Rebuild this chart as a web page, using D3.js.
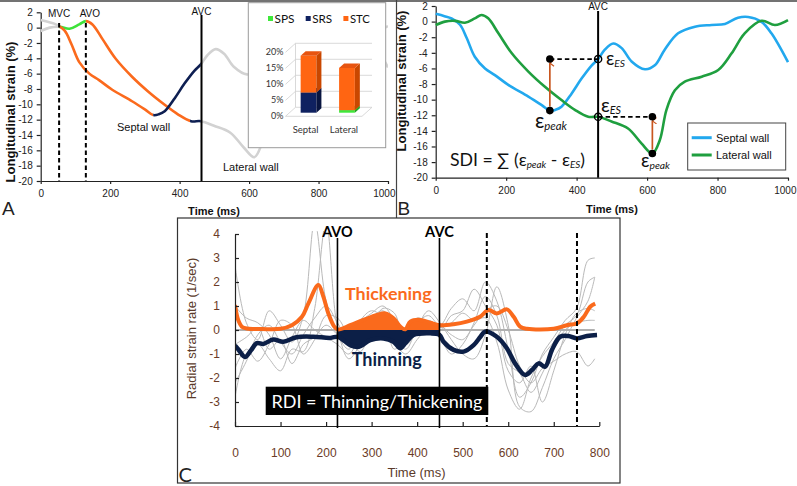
<!DOCTYPE html>
<html><head><meta charset="utf-8">
<script src="https://cdn.jsdelivr.net/npm/d3@7"></script>
<style>body{margin:0;background:#fff}svg{display:block}</style>
</head><body>
<svg id="c" width="797" height="486"></svg>
<script>
// ================= DATA =================
const strainTicksY = [2,0,-2,-4,-6,-8,-10,-12,-14,-16,-18,-20];
const strainTicksX = [0,200,400,600,800,1000];

const septalT = [0,25,45,69,88,111,140,168,206,263,301,324,340,357,386,414,443,461,480,504,528,556,594,622,650,688,736,783,821,858,887,924,953,1000];
const septalV = [1.0,0.7,0.4,-0.4,-2.1,-4.5,-6.0,-6.85,-8.1,-9.6,-10.7,-11.4,-11.3,-10.9,-9.2,-7.3,-5.6,-4.8,-3.6,-2.8,-3.4,-5.1,-6.1,-5.6,-3.6,-1.5,-0.65,-0.43,-0.3,0.5,0.6,0.0,-1.5,-5.2];
const lateralT = [0,26,55,83,111,130,149,178,216,263,310,357,395,433,461,499,546,584,615,636,655,679,707,755,802,840,877,925,963,1000];
const lateralV = [-0.44,0.0,0.1,-0.14,0.42,0.85,0.42,-1.5,-4.06,-6.4,-8.35,-10.05,-11.3,-12.2,-12.2,-12.8,-13.7,-15.6,-16.9,-15.2,-11.3,-8.8,-7.7,-7.06,-6.2,-4.06,-1.5,0.1,-0.44,0.2];

// panel A phases
const septalPhaseNames = ["pre","STC","SRS","post"];
const septalPhaseT = [0,53,324,461,1000];
const lateralPhaseNames = ["pre","SPS","STC","SRS","post"];
const lateralPhaseT = [0,53,130,430,461,1000];
const eventsA = ["MVC","AVO","AVC"];
const eventsATime = [53,130,463];

// inset bar chart
const insetCats = ["Septal","Lateral"];
const insetKeys = ["SPS","SRS","STC"];
const insetSPS = [0,0.8];
const insetSRS = [6.3,0];
const insetSTC = [11.5,13.2];
const insetTicks = [0,5,10,15,20];

// panel B
const avcB = 461;
const septalPeakT = 324;
const lateralPeakT = 615;

// panel C
const cTicksX = [0,100,200,300,400,500,600,700,800];
const cTicksY = [4,3,2,1,0,-1,-2,-3,-4];
const cEventsSolid = ["AVO","AVC"];
const cEventsSolidT = [225,449];
const cEventsDashedT = [553,751];
const orangeT = [0,7,15,26,60,100,125,147,161,183,194,205,218,226,253,282,312,330,348,363,374,385,407,429,449,480,509,538,557,575,597,612,626,641,700,729,751,766,780,791];
const orangeV = [1.04,0.42,0.14,0.06,0.04,0.05,0.2,0.55,1.1,1.87,1.39,0.69,0.14,0.02,0.2,0.42,0.63,0.69,0.49,0.14,0.03,0.35,0.42,0.3,0.2,0.24,0.35,0.55,0.83,0.69,0.86,0.55,0.14,0.05,0.05,0.2,0.28,0.55,0.97,1.1];
const navyT = [0,7,22,35,48,62,84,106,135,172,209,226,240,253,272,297,326,348,363,374,392,429,449,458,480,502,524,539,549,575,597,615,637,652,667,681,696,714,732,751,773,795];
const navyV = [-0.65,-0.8,-1.12,-0.85,-0.55,-0.58,-0.4,-0.49,-0.3,-0.28,-0.33,-0.28,-0.45,-0.63,-0.7,-0.42,-0.35,-0.49,-0.76,-0.55,-0.21,-0.14,-0.2,-0.49,-0.83,-0.9,-0.63,-0.28,-0.07,-0.28,-0.76,-1.39,-1.87,-1.67,-1.39,-1.53,-0.83,-0.28,-0.25,-0.35,-0.25,-0.21];
const greyT = [0,25,50,75,100,125,150,175,200,225,250,275,300,325,350,375,400,425,450,475,500,525,550,575,600,625,650,675,700,725,750,775,790];
const grey1 = [2.7,0.3,-0.4,0.8,0.2,-0.5,0.6,4.5,1.2,-0.2,-0.8,0.3,0.7,1.0,0.4,-0.3,0.3,0.6,0.2,0.9,1.3,0.8,2.0,1.2,-0.8,-2.8,-2.2,-1.0,-0.3,0.4,0.9,2.9,3.0];
const grey2 = [-2.8,-1.0,-0.6,-1.2,-1.7,-0.8,-0.9,0.9,4.5,0.1,-1.2,-0.6,0.2,0.6,-0.2,-0.8,0.1,0.8,0.3,-0.4,-1.0,-1.2,-0.2,1.8,0.2,-3.2,-3.4,-2.4,-1.2,-0.4,0.5,1.2,2.2];
const grey3 = [-2.2,-1.3,-0.2,0.2,-0.5,-1.0,-0.2,0.5,1.0,0.3,-0.4,0.4,0.8,0.5,-0.8,-0.2,0.5,0.3,0.0,0.6,0.8,1.7,1.0,0.2,-1.7,-2.2,-1.5,-3.0,-1.7,-0.2,0.7,0.9,0.8];
const grey4 = [-1.6,-0.8,-1.3,-0.6,0.4,0.2,-1.0,-0.4,0.6,0.5,-0.3,-0.9,0.1,0.9,0.7,-0.6,-0.1,0.2,-0.3,-1.0,-0.6,0.3,1.4,0.6,-1.4,-1.8,-2.6,-1.8,-0.8,0.0,0.3,0.4,0.4];
const grey5 = [1.0,0.5,0.3,-0.2,-1.2,-0.3,0.4,0.0,-0.3,-0.6,-1.0,-0.2,0.5,0.8,0.2,-0.5,0.0,0.4,0.1,0.3,0.7,0.4,0.5,-0.5,-2.5,-3.3,-2.0,-1.1,-0.5,0.2,0.6,2.0,2.2];
const grey6 = [-0.6,-0.3,0.1,-0.8,-0.4,-1.4,-0.6,-0.3,0.2,-0.2,-0.6,-0.4,0.3,0.2,-0.5,-1.0,-0.4,0.1,0.2,-0.2,-0.4,0.2,0.8,1.0,0.0,-1.5,-2.2,-1.6,-1.3,-1.0,-0.9,-1.5,-1.2];

// ================= DRAWING =================
const svg = d3.select('#c');
const ARIAL = "'Liberation Sans', Arial, sans-serif";
const CAL = "Lato, 'Open Sans', sans-serif";
const defs = svg.append('defs');
const curve = d3.curveCatmullRom.alpha(0.5);
const pts = (T,V) => T.map((t,i)=>[t,V[i]]);
let clipN = 0;
function clip(x0,y0,x1,y1){
  const id='clp'+(clipN++);
  defs.append('clipPath').attr('id',id).append('rect')
    .attr('x',x0).attr('y',y0).attr('width',x1-x0).attr('height',y1-y0);
  return `url(#${id})`;
}
function fitW(sel, w){
  const L = sel.node().getComputedTextLength();
  if(!L) return;
  const r = w/L;
  sel.attr('font-size', parseFloat(sel.attr('font-size'))*r);
  sel.selectAll('tspan').each(function(){
    const t=d3.select(this);
    if(t.attr('font-size')) t.attr('font-size', parseFloat(t.attr('font-size'))*r);
  });
}
function styleAxis(g, size, color, family){
  g.attr('font-family', family).attr('font-size', size);
  g.select('.domain').attr('stroke','#222').attr('stroke-width',1.2);
  g.selectAll('.tick line').attr('stroke','#222').attr('stroke-width',1.2);
  g.selectAll('.tick text').attr('fill',color);
}
function endLabel(g, v, dx){
  g.selectAll('.tick').filter(d=>d===v).select('text').attr('text-anchor','end').attr('x',dx);
}

const PH = {pre:'#d2d2d2', post:'#d2d2d2', SPS:'#3ee23a', SRS:'#0e1f52', STC:'#fb6a1d'};

// frame lines
svg.append('line').attr('x1',0).attr('x2',797).attr('y1',1).attr('y2',1).attr('stroke','#444').attr('stroke-width',1.5);
svg.append('line').attr('x1',396.5).attr('x2',396.5).attr('y1',0).attr('y2',218).attr('stroke','#444').attr('stroke-width',1.2);

// ---------- PANEL A ----------
const gA = svg.append('g');
const xA = d3.scaleLinear().domain([0,1000]).range([40.7,388]);
const yA = d3.scaleLinear().domain([-20,2]).range([181,12.3]);
const lineA = d3.line().x(d=>xA(d[0])).y(d=>yA(d[1])).curve(curve);

const axAx = gA.append('g').attr('transform','translate(0,181)')
  .call(d3.axisBottom(xA).tickValues(strainTicksX).tickSize(3).tickSizeOuter(0).tickPadding(6).tickFormat(d=>String(d)));
styleAxis(axAx,10,'#222',ARIAL);
endLabel(axAx,1000,7);
const axAy = gA.append('g').attr('transform','translate(40.7,0)')
  .call(d3.axisLeft(yA).tickValues(strainTicksY).tickSize(4).tickSizeOuter(0).tickPadding(4).tickFormat(d=>String(d)));
styleAxis(axAy,10,'#222',ARIAL);

const walls = [
  {d:pts(lateralT,lateralV), names:lateralPhaseNames, T:lateralPhaseT},
  {d:pts(septalT,septalV), names:septalPhaseNames, T:septalPhaseT}
];
[true,false].forEach(greyPass=>{
  walls.forEach(w=>{
    w.names.forEach((nm,i)=>{
      const isGrey = (nm==='pre'||nm==='post');
      if(isGrey!==greyPass) return;
      gA.append('path').attr('d',lineA(w.d)).attr('fill','none')
        .attr('stroke',PH[nm]).attr('stroke-width',2.6).attr('stroke-linecap','butt')
        .attr('clip-path', clip(xA(w.T[i]),0,xA(w.T[i+1]),215));
    });
  });
});
// event lines A
eventsA.forEach((nm,i)=>{
  const x = xA(eventsATime[i]);
  const solid = nm==='AVC';
  gA.append('line').attr('x1',x).attr('x2',x).attr('y1',solid?15:23).attr('y2',181)
    .attr('stroke','#000').attr('stroke-width',2).attr('stroke-dasharray',solid?null:'4.5,3');
  gA.append('text').attr('x',x+(nm==='AVO'?4:0)).attr('y',solid?15:17).attr('text-anchor','middle')
    .attr('font-family',ARIAL).attr('font-size',10).attr('fill','#111').text(nm);
});
gA.append('text').attr('x',117).attr('y',131).attr('font-family',ARIAL).attr('font-size',11).attr('fill','#111').text('Septal wall');
gA.append('text').attr('x',223).attr('y',171).attr('font-family',ARIAL).attr('font-size',11).attr('fill','#111').text('Lateral wall');
gA.append('text').attr('x',214).attr('y',215).attr('text-anchor','middle').attr('font-family',ARIAL).attr('font-size',11).attr('font-weight','bold').attr('fill','#111').text('Time (ms)');
gA.append('text').attr('transform','translate(14.5,112) rotate(-90)').attr('text-anchor','middle').attr('font-family',ARIAL).attr('font-size',13).attr('font-weight','bold').attr('fill','#111').text('Longitudinal strain (%)');
gA.append('text').attr('x',2).attr('y',215).attr('font-family',ARIAL).attr('font-size',19).attr('fill','#222').text('A');

// inset
const gI = svg.append('g');
gI.append('rect').attr('x',248.3).attr('y',2.7).attr('width',137.4).attr('height',145).attr('fill','#fff').attr('stroke','#9a9a9a').attr('stroke-width',1);
const yIn = d3.scaleLinear().domain([0,20]).range([116.3,52.3]);
const ix0=285.5, ix1=362, ddx=10, ddy=-9;
insetTicks.forEach(v=>{
  const y=yIn(v);
  gI.append('polyline').attr('points',`${ix0},${y} ${ix0+ddx},${y+ddy} ${ix1+ddx},${y+ddy}`)
    .attr('fill','none').attr('stroke','#cfcfcf').attr('stroke-width',0.8);
  gI.append('text').attr('x',ix0-2).attr('y',y+3).attr('text-anchor','end')
    .attr('font-family',CAL).attr('font-size',9).attr('fill','#333').text(v+'%');
});
gI.append('polyline').attr('points',`${ix0},${yIn(0)} ${ix1},${yIn(0)} ${ix1+ddx},${yIn(0)+ddy}`).attr('fill','none').attr('stroke','#cfcfcf').attr('stroke-width',0.8);
gI.append('line').attr('x1',ix0+ddx).attr('x2',ix0+ddx).attr('y1',yIn(0)+ddy).attr('y2',yIn(20)+ddy).attr('stroke','#cfcfcf').attr('stroke-width',0.8);
const xIn = d3.scaleBand().domain(insetCats).range([ix0,ix1]).paddingInner(0.59).paddingOuter(0.29);
const barShiftX=4, barShiftY=-3.6, bdx=5, bdy=-4.5;
const insetVals = {SPS:insetSPS, SRS:insetSRS, STC:insetSTC};
const COLF = {SPS:'#3ee83a', SRS:'#0f2160', STC:'#ff6512'};
const COLS = {SPS:'#23a423', SRS:'#091540', STC:'#c94700'};
const COLT = {SPS:'#2fc22f', SRS:'#13286e', STC:'#e75410'};
insetCats.forEach((c,ci)=>{
  let base=0;
  const bx = xIn(c)+barShiftX, bw = xIn.bandwidth();
  insetKeys.forEach(k=>{
    const v = insetVals[k][ci];
    if(v<=0) return;
    const y0 = yIn(base)+barShiftY, y1 = yIn(base+v)+barShiftY;
    gI.append('rect').attr('x',bx).attr('y',y1).attr('width',bw).attr('height',y0-y1).attr('fill',COLF[k]);
    gI.append('polygon').attr('points',`${bx+bw},${y0} ${bx+bw+bdx},${y0+bdy} ${bx+bw+bdx},${y1+bdy} ${bx+bw},${y1}`).attr('fill',COLS[k]);
    gI.append('polygon').attr('points',`${bx},${y1} ${bx+bdx},${y1+bdy} ${bx+bw+bdx},${y1+bdy} ${bx+bw},${y1}`).attr('fill',COLT[k]);
    base+=v;
  });
  gI.append('text').attr('x',xIn(c)+bw/2+1).attr('y',133).attr('text-anchor','middle')
    .attr('font-family',CAL).attr('font-size',9.5).attr('fill','#333').text(c);
});
insetKeys.forEach((k,i)=>{
  const lx = 268 + i*37.7;
  gI.append('rect').attr('x',lx).attr('y',16).attr('width',5).attr('height',5).attr('fill',COLF[k]);
  const t = gI.append('text').attr('x',lx+6.5).attr('y',22.5).attr('font-family',CAL).attr('font-size',11).attr('fill','#111').text(k);
  fitW(t,20);
});

// ---------- PANEL B ----------
const gB = svg.append('g');
const xB = d3.scaleLinear().domain([0,1000]).range([435.7,788]);
const yB = d3.scaleLinear().domain([-20,2]).range([177.7,6]);
const lineB = d3.line().x(d=>xB(d[0])).y(d=>yB(d[1])).curve(curve);
const axBx = gB.append('g').attr('transform','translate(0,177.7)')
  .call(d3.axisBottom(xB).tickValues(strainTicksX).tickSize(3).tickSizeOuter(0).tickPadding(6).tickFormat(d=>String(d)));
styleAxis(axBx,10,'#222',ARIAL);
endLabel(axBx,1000,8);
const axBy = gB.append('g').attr('transform','translate(435.7,0)')
  .call(d3.axisLeft(yB).tickValues(strainTicksY).tickSize(4).tickSizeOuter(0).tickPadding(4).tickFormat(d=>String(d)));
styleAxis(axBy,10,'#222',ARIAL);
const BLUE='#22a8ee', GREEN='#1f9f3f';
gB.append('path').attr('d',lineB(pts(septalT,septalV))).attr('fill','none').attr('stroke',BLUE).attr('stroke-width',2.6);
gB.append('path').attr('d',lineB(pts(lateralT,lateralV))).attr('fill','none').attr('stroke',GREEN).attr('stroke-width',2.6);
const xAvc = xB(avcB);
gB.append('line').attr('x1',xAvc).attr('x2',xAvc).attr('y1',11).attr('y2',177.7).attr('stroke','#000').attr('stroke-width',2);
gB.append('text').attr('x',xAvc).attr('y',10).attr('text-anchor','middle').attr('font-family',ARIAL).attr('font-size',10).attr('fill','#111').text('AVC');

const vAt = (T,V,t)=>{ const i=T.indexOf(t); return V[i]; };
const sPeak = vAt(septalT,septalV,septalPeakT), sES = vAt(septalT,septalV,avcB);
const lPeak = vAt(lateralT,lateralV,lateralPeakT), lES = vAt(lateralT,lateralV,avcB);
defs.append('marker').attr('id','arr').attr('viewBox','0 0 10 10').attr('refX',5).attr('refY',1).attr('markerWidth',7).attr('markerHeight',7).attr('orient','auto-start-reverse').attr('markerUnits','userSpaceOnUse')
  .append('path').attr('d','M0.5,7 L5,1 L9.5,7').attr('fill','none').attr('stroke','#c9561f').attr('stroke-width',1.6);
function arrow(t,vFrom,vTo){
  gB.append('line').attr('x1',xB(t)).attr('x2',xB(t)).attr('y1',yB(vFrom)-4).attr('y2',yB(vTo)+4)
    .attr('stroke','#c9561f').attr('stroke-width',1.7).attr('marker-end','url(#arr)');
}
function dash(t0,t1,v){
  gB.append('line').attr('x1',xB(t0)).attr('x2',xB(t1)).attr('y1',yB(v)).attr('y2',yB(v))
    .attr('stroke','#000').attr('stroke-width',1.8).attr('stroke-dasharray','4.5,3');
}
dash(septalPeakT,avcB,sES);
dash(avcB,lateralPeakT,lES);
arrow(septalPeakT,sPeak,sES);
arrow(lateralPeakT,lPeak,lES);
[[septalPeakT,sPeak],[septalPeakT,sES],[lateralPeakT,lES],[lateralPeakT,lPeak]].forEach(p=>{
  gB.append('circle').attr('cx',xB(p[0])).attr('cy',yB(p[1])).attr('r',3.8).attr('fill','#000');
});
[[avcB,sES],[avcB,lES]].forEach(p=>{
  gB.append('circle').attr('cx',xB(p[0])).attr('cy',yB(p[1])).attr('r',3.6).attr('fill','none').attr('stroke','#000').attr('stroke-width',1.4);
});
function epsLabel(x,y,sub,w){
  const t = gB.append('text').attr('x',x).attr('y',y).attr('font-family',CAL).attr('font-size',18).attr('fill','#111');
  t.append('tspan').text('ε');
  t.append('tspan').attr('font-size',10).attr('font-style','italic').attr('dy',1.5).text(sub);
  fitW(t,w);
}
epsLabel(606,65,'ES',19);
epsLabel(601,112,'ES',20);
epsLabel(535,128,'peak',32);
epsLabel(641,167,'peak',29);
{
  const t = gB.append('text').attr('x',450).attr('y',166).attr('font-family',CAL).attr('font-size',18).attr('fill','#111');
  t.append('tspan').text('SDI = ∑ (ε');
  t.append('tspan').attr('font-size',10).attr('font-style','italic').attr('dy',1.5).text('peak');
  t.append('tspan').attr('dy',-1.5).text(' - ε');
  t.append('tspan').attr('font-size',10).attr('font-style','italic').attr('dy',1.5).text('ES');
  t.append('tspan').attr('dy',-1.5).text(')');
  fitW(t,135);
}
// legend B
gB.append('rect').attr('x',687.7).attr('y',123).attr('width',98).attr('height',47).attr('fill','#fff').attr('stroke','#444').attr('stroke-width',1);
[['Septal wall',BLUE,137.7],['Lateral wall',GREEN,155]].forEach(r=>{
  gB.append('line').attr('x1',691.7).attr('x2',711.7).attr('y1',r[2]).attr('y2',r[2]).attr('stroke',r[1]).attr('stroke-width',3);
  gB.append('text').attr('x',716).attr('y',r[2]+4).attr('font-family',ARIAL).attr('font-size',11).attr('fill','#111').text(r[0]);
});
gB.append('text').attr('x',612).attr('y',213).attr('text-anchor','middle').attr('font-family',ARIAL).attr('font-size',11).attr('font-weight','bold').attr('fill','#111').text('Time (ms)');
gB.append('text').attr('transform','translate(406,81) rotate(-90)').attr('text-anchor','middle').attr('font-family',ARIAL).attr('font-size',13).attr('font-weight','bold').attr('fill','#111').text('Longitudinal strain (%)');
gB.append('text').attr('x',397.5).attr('y',215).attr('font-family',ARIAL).attr('font-size',19).attr('fill','#222').text('B');

// ---------- PANEL C ----------
const gC = svg.append('g');
gC.append('rect').attr('x',177.5).attr('y',218).attr('width',442.5).attr('height',265).attr('fill','#fff').attr('stroke','#333').attr('stroke-width',1.2);
const xC = d3.scaleLinear().domain([0,800]).range([235,599.3]);
const yC = d3.scaleLinear().domain([-4,4]).range([426,234]);
const lineC = d3.line().x(d=>xC(d[0])).y(d=>yC(d[1])).curve(curve);
const plotClip = clip(235,231,601,427);
const BROWN = '#6b3b26';
[grey1,grey2,grey3,grey4,grey5,grey6].forEach(g=>{
  gC.append('path').attr('d',lineC(pts(greyT,g))).attr('fill','none').attr('stroke','#b9b9b9').attr('stroke-width',1).attr('clip-path',plotClip);
});
gC.append('line').attr('x1',xC(0)).attr('x2',xC(790)).attr('y1',yC(0)).attr('y2',yC(0)).attr('stroke','#b0b0b0').attr('stroke-width',2);
const ORANGE='#fa6a1c', NAVY='#0c1f47';
const fillClip = clip(xC(cEventsSolidT[0]),231,xC(cEventsSolidT[1]),427);
const areaC = d3.area().x(d=>xC(d[0])).y0(yC(0)).y1(d=>yC(d[1])).curve(curve);
gC.append('path').attr('d',areaC(pts(orangeT,orangeV))).attr('fill',ORANGE).attr('clip-path',fillClip);
gC.append('path').attr('d',areaC(pts(navyT,navyV))).attr('fill',NAVY).attr('clip-path',fillClip);
gC.append('path').attr('d',lineC(pts(orangeT,orangeV))).attr('fill','none').attr('stroke',ORANGE).attr('stroke-width',4).attr('clip-path',plotClip);
gC.append('path').attr('d',lineC(pts(navyT,navyV))).attr('fill','none').attr('stroke',NAVY).attr('stroke-width',4.5).attr('clip-path',plotClip);
const axCx = gC.append('g').attr('transform','translate(0,426)')
  .call(d3.axisBottom(xC).tickValues(cTicksX).tickSizeInner(-4).tickSizeOuter(0).tickPadding(22).tickFormat(d=>String(d)));
styleAxis(axCx,12,BROWN,ARIAL);
const axCy = gC.append('g').attr('transform','translate(235,0)')
  .call(d3.axisLeft(yC).tickValues(cTicksY).tickSizeInner(-4).tickSizeOuter(0).tickPadding(15).tickFormat(d=>String(d)));
styleAxis(axCy,12,BROWN,ARIAL);
cEventsSolid.forEach((nm,i)=>{
  const x = xC(cEventsSolidT[i]);
  gC.append('line').attr('x1',x).attr('x2',x).attr('y1',238).attr('y2',428).attr('stroke','#000').attr('stroke-width',1.6);
  const t = gC.append('text').attr('x',x).attr('y',237).attr('text-anchor','middle').attr('font-family',CAL).attr('font-weight','bold').attr('font-size',15).attr('fill','#000').text(nm);
  fitW(t, nm==='AVO'?30.6:28.7);
});
cEventsDashedT.forEach(t=>{
  const x = xC(t);
  gC.append('line').attr('x1',x).attr('x2',x).attr('y1',233).attr('y2',426).attr('stroke','#000').attr('stroke-width',2).attr('stroke-dasharray','5,3');
});
{
  const t1 = gC.append('text').attr('x',345).attr('y',300).attr('font-family',CAL).attr('font-weight','bold').attr('font-size',18).attr('fill',ORANGE).text('Thickening');
  fitW(t1,86.7);
  const t2 = gC.append('text').attr('x',351.7).attr('y',366).attr('font-family',CAL).attr('font-weight','bold').attr('font-size',18).attr('fill',NAVY).text('Thinning');
  fitW(t2,70);
  gC.append('rect').attr('x',265.7).attr('y',386.7).attr('width',222.6).attr('height',28.3).attr('fill','#000');
  const t3 = gC.append('text').attr('x',271.5).attr('y',407.5).attr('font-family',CAL).attr('font-size',18).attr('fill','#fff').text('RDI = Thinning/Thickening');
  fitW(t3,211);
}
gC.append('text').attr('x',416.5).attr('y',477).attr('text-anchor','middle').attr('font-family',ARIAL).attr('font-size',13).attr('fill','#5a3a2a').text('Time (ms)');
gC.append('text').attr('transform','translate(195.5,328.5) rotate(-90)').attr('text-anchor','middle').attr('font-family',ARIAL).attr('font-size',13).attr('fill','#5a3a2a').text('Radial strain rate (1/sec)');
gC.append('text').attr('x',178.5).attr('y',482).attr('font-family',CAL).attr('font-size',20).attr('fill','#222').text('C');
</script>
</body></html>
